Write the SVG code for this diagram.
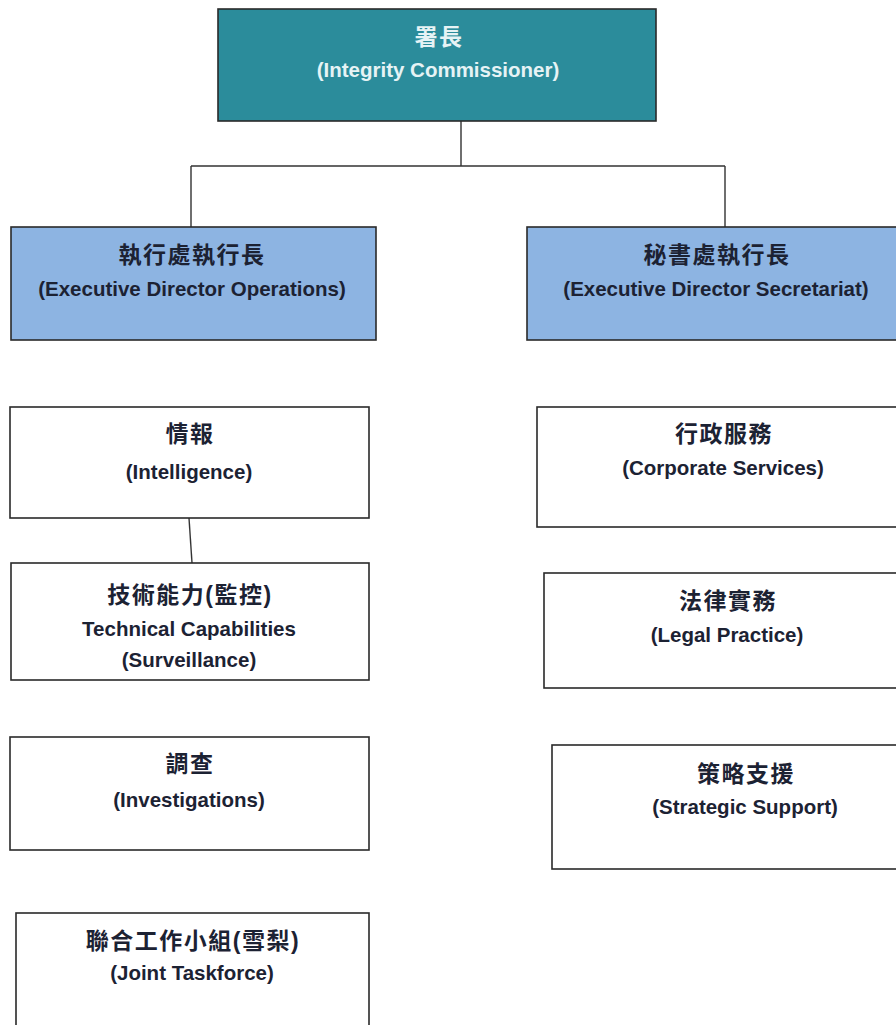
<svg xmlns="http://www.w3.org/2000/svg" width="896" height="1025" viewBox="0 0 896 1025">
<style>
.box{stroke:#2a2a2a;stroke-width:1.6}
.top{fill:#2b8c9b}
.exec{fill:#8db4e2}
.unit{fill:#ffffff}
.t{font-family:"Liberation Sans","Noto Sans CJK TC",sans-serif;font-weight:bold;text-anchor:middle;fill:#1c2233}
.zh{font-size:23px;letter-spacing:1.5px}
.en{font-size:20.5px}
.w{fill:#e6f3f5}
.conn{stroke:#333;stroke-width:1.4;fill:none}
</style>
<rect width="896" height="1025" fill="#ffffff"/>
<g id="connectors">
<path class="conn" d="M461,121 V166 M191,166 H725 M191,166 V228 M725,166 V228"/>
<path class="conn" d="M189,518 L192,563"/>
</g>
<g id="commissioner">
<rect class="box top" x="218" y="9" width="438" height="112"/>
<text class="t zh w" x="439" y="45">署長</text>
<text class="t en w" x="438" y="77">(Integrity Commissioner)</text>
</g>
<g id="ed-operations">
<rect class="box exec" x="11" y="227" width="365" height="113"/>
<text class="t zh" x="192" y="263">執行處執行長</text>
<text class="t en" x="192" y="296">(Executive Director Operations)</text>
</g>
<g id="ed-secretariat">
<rect class="box exec" x="527" y="227" width="380" height="113"/>
<text class="t zh" x="717" y="263">秘書處執行長</text>
<text class="t en" x="716" y="296">(Executive Director Secretariat)</text>
</g>
<g id="intelligence">
<rect class="box unit" x="10" y="407" width="359" height="111"/>
<text class="t zh" x="190" y="442">情報</text>
<text class="t en" x="189" y="479">(Intelligence)</text>
</g>
<g id="technical">
<rect class="box unit" x="11" y="563" width="358" height="117"/>
<text class="t zh" x="190" y="603">技術能力(監控)</text>
<text class="t en" x="189" y="636">Technical Capabilities</text>
<text class="t en" x="189" y="667">(Surveillance)</text>
</g>
<g id="investigations">
<rect class="box unit" x="10" y="737" width="359" height="113"/>
<text class="t zh" x="190" y="772">調查</text>
<text class="t en" x="189" y="807">(Investigations)</text>
</g>
<g id="joint-taskforce">
<rect class="box unit" x="16" y="913" width="353" height="130"/>
<text class="t zh" x="193" y="949">聯合工作小組(雪梨)</text>
<text class="t en" x="192" y="980">(Joint Taskforce)</text>
</g>
<g id="corporate-services">
<rect class="box unit" x="537" y="407" width="372" height="120"/>
<text class="t zh" x="724" y="442">行政服務</text>
<text class="t en" x="723" y="475">(Corporate Services)</text>
</g>
<g id="legal-practice">
<rect class="box unit" x="544" y="573" width="366" height="115"/>
<text class="t zh" x="728" y="609">法律實務</text>
<text class="t en" x="727" y="642">(Legal Practice)</text>
</g>
<g id="strategic-support">
<rect class="box unit" x="552" y="745" width="386" height="124"/>
<text class="t zh" x="746" y="782">策略支援</text>
<text class="t en" x="745" y="814">(Strategic Support)</text>
</g>
</svg>
